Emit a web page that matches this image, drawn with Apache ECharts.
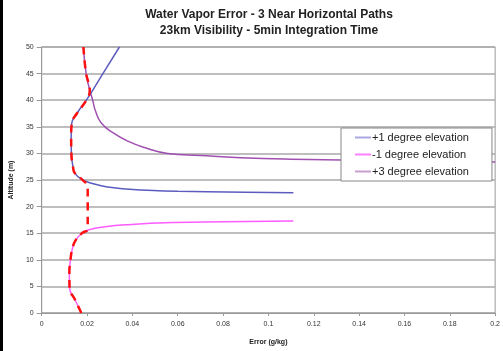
<!DOCTYPE html>
<html>
<head>
<meta charset="utf-8">
<script src="https://cdn.jsdelivr.net/npm/echarts@6/dist/echarts.min.js"></script>
<style>
html,body{margin:0;padding:0;background:#fff;}
#c{width:503px;height:351px;}
</style>
</head>
<body>
<div id="c"></div>
<script>
var titleLines = ['Water Vapor Error - 3 Near Horizontal Paths', '23km Visibility - 5min Integration Time'];
var xTickLabels = ['0', '0.02', '0.04', '0.06', '0.08', '0.1', '0.12', '0.14', '0.16', '0.18', '0.2'];
var yTickLabels = ['0', '5', '10', '15', '20', '25', '30', '35', '40', '45', '50'];
var seriesNames = ['+1 degree elevation', '-1 degree elevation', '+3 degree elevation'];

// [error (g/kg), altitude (m)]
var plus1 = [[0.0343,50],[0.027,45],[0.0197,40],[0.0155,37.5],[0.0132,35.5],[0.013,33],[0.0131,30],[0.0138,27.5],[0.0146,26.3],[0.0178,25.1],[0.022,24.4],[0.029,23.7],[0.044,23.1],[0.06,22.9],[0.073,22.8],[0.09,22.7],[0.111,22.6]];
var minus1 = [[0.0175,0],[0.0147,2.5],[0.0123,4.7],[0.0122,7.5],[0.0127,10],[0.0135,12],[0.015,13.7],[0.0178,15],[0.0205,15.6],[0.028,16.2],[0.038,16.6],[0.0585,17.0],[0.08,17.15],[0.111,17.3]];
var plus3 = [[0.0184,50],[0.0196,45],[0.0212,41.9],[0.0225,40],[0.0237,38],[0.0263,35.7],[0.0314,33.9],[0.038,32.3],[0.0453,31.1],[0.0556,30],[0.0702,29.6],[0.0877,29.2],[0.11,28.9],[0.132,28.75],[0.2,28.4]];
var envelope = [[0.0175,0],[0.0147,2.5],[0.0123,4.7],[0.0122,7.5],[0.0127,10],[0.0135,12],[0.015,13.7],[0.0178,15],[0.0203,15.8],[0.0203,20],[0.0203,23.6],[0.0178,25.1],[0.0146,26.3],[0.0138,27.5],[0.0131,30],[0.013,33],[0.0132,35.5],[0.0155,37.5],[0.0197,40],[0.0212,41.9],[0.0196,45],[0.0184,50]];

var chart = echarts.init(document.getElementById('c'), null, {renderer: 'canvas'});
var font = 'Liberation Sans, Arial, sans-serif';
chart.setOption({
  animation: false,
  backgroundColor: '#ffffff',
  graphic: [{type: 'rect', left: 0, top: 0, shape: {width: 3, height: 351}, style: {fill: '#000'}}],
  title: {
    text: titleLines.join('\n'),
    left: 264, top: 2, textAlign: 'center',
    textStyle: {fontFamily: font, fontSize: 12, fontWeight: 'bold', color: '#222', lineHeight: 16}
  },
  legend: {
    data: seriesNames,
    orient: 'vertical',
    left: 341, top: 128,
    padding: [3, 23, 3, 14],
    itemGap: 4,
    itemWidth: 16, itemHeight: 2,
    icon: 'rect',
    backgroundColor: '#fff',
    borderColor: '#888', borderWidth: 1, borderRadius: 0,
    textStyle: {fontFamily: font, fontSize: 11, lineHeight: 13, color: '#222', padding: [0, 0, 0, -4]}
  },
  grid: {left: 40, right: 7, top: 47, bottom: 38, show: true, borderColor: '#999', borderWidth: 1, backgroundColor: '#fff'},
  xAxis: {
    type: 'value', min: 0, max: 0.2, interval: 0.02,
    name: 'Error (g/kg)', nameLocation: 'middle', nameGap: 26,
    nameTextStyle: {fontFamily: font, fontSize: 7, color: '#222', fontWeight: 'bold'},
    axisLine: {show: true, lineStyle: {color: '#999', width: 1}},
    axisTick: {show: true, length: 3, lineStyle: {color: '#999'}},
    axisLabel: {fontFamily: font, fontSize: 7, color: '#333', margin: 8,
      formatter: function (v, i) { return xTickLabels[i]; }},
    splitLine: {show: false}
  },
  yAxis: {
    type: 'value', min: 0, max: 50, interval: 5,
    name: 'Altitude (m)', nameLocation: 'middle', nameGap: 26, nameRotate: 90,
    nameTextStyle: {fontFamily: font, fontSize: 7, color: '#222', fontWeight: 'bold'},
    axisLine: {show: true, lineStyle: {color: '#999', width: 1}},
    axisTick: {show: true, length: 5, lineStyle: {color: '#999'}},
    axisLabel: {fontFamily: font, fontSize: 7, color: '#333', margin: 8,
      formatter: function (v, i) { return yTickLabels[i]; }},
    splitLine: {show: true, lineStyle: {color: '#a8a8a8', width: 1.5}}
  },
  series: [
    {name: seriesNames[2], type: 'line', data: plus3, showSymbol: false, symbol: 'none', smooth: true,
      lineStyle: {color: '#a050b0', width: 1.5}, itemStyle: {color: '#c8a0d0'}},
    {name: seriesNames[0], type: 'line', data: plus1, showSymbol: false, symbol: 'none', smooth: true,
      lineStyle: {color: '#5c5cbf', width: 1.5}, itemStyle: {color: '#a8a8e0'}},
    {name: seriesNames[1], type: 'line', data: minus1, showSymbol: false, symbol: 'none', smooth: true,
      lineStyle: {color: '#ff5cff', width: 1.5}, itemStyle: {color: '#ff80ff'}},
    {name: 'envelope', type: 'line', data: envelope, showSymbol: false, symbol: 'none', smooth: true,
      lineStyle: {color: '#ff1010', width: 2.5, type: [8, 6]}, itemStyle: {color: '#ff1010'}}
  ]
});
</script>
</body>
</html>
